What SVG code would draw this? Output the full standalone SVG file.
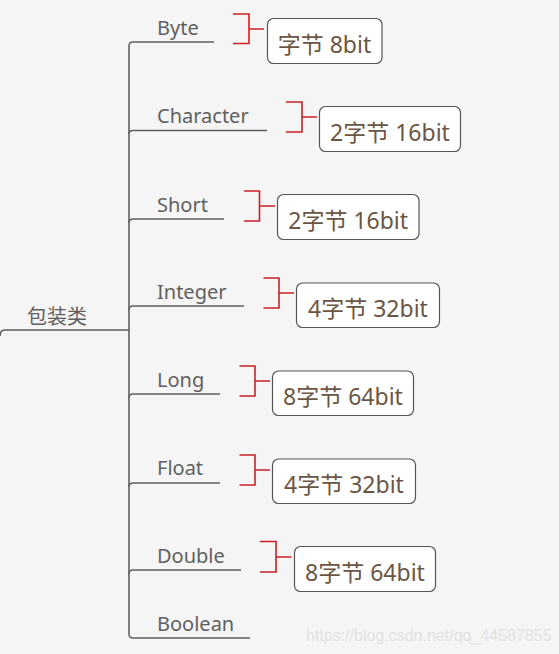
<svg xmlns="http://www.w3.org/2000/svg" width="559" height="654" viewBox="0 0 559 654">
<style>
.bg{fill:#f5f5f5}
.ln{fill:none;stroke:#606060;stroke-width:1.6}
.br{fill:none;stroke:#cc2026;stroke-width:1.6}
.lbl{font-family:"Noto Sans","Noto Sans CJK SC",sans-serif;font-size:20px;fill:#606060}
.box{fill:#ffffff;stroke:#555555;stroke-width:1.2}
.bt{font-family:"Noto Sans","Noto Sans CJK SC",sans-serif;font-size:23px;fill:#6b5643;text-anchor:middle}
.wm{font-family:"Liberation Sans",Arial,sans-serif;font-size:16px;fill:#e2e2e2}
</style>
<rect class="bg" x="0" y="0" width="559" height="654"/>
<g id="connectors">
<path class="ln" d="M0,336 Q0,330 5,330 H129"/>
<path class="ln" d="M129,46 V634"/>
<path class="ln" d="M129,46 Q129,42 133,42 H214"/>
<path class="ln" d="M129,134 Q129,130.5 133,130.5 H267"/>
<path class="ln" d="M129,223 Q129,219 133,219 H224"/>
<path class="ln" d="M129,310 Q129,306 133,306 H244"/>
<path class="ln" d="M129,398 Q129,394 133,394 H220"/>
<path class="ln" d="M129,487 Q129,483 133,483 H220"/>
<path class="ln" d="M129,574 Q129,570 133,570 H241"/>
<path class="ln" d="M129,634 Q129,638 133,638 H250"/>
<path class="br" d="M233,14 H249 V43.5 H233 M249,29 H264"/>
<path class="br" d="M286,102 H302 V132 H286 M302,117 H317"/>
<path class="br" d="M244,191 H259.5 V221 H244 M259.5,206 H275"/>
<path class="br" d="M263.5,278 H279 V308 H263.5 M279,293 H294"/>
<path class="br" d="M239.5,366 H255 V396 H239.5 M255,381 H270"/>
<path class="br" d="M239.5,455 H255 V485 H239.5 M255,470 H270"/>
<path class="br" d="M260,541.5 H276 V572 H260 M276,557 H291.5"/>
</g>
<g id="root"><text class="lbl" x="27" y="324">包装类</text></g>
<g id="byte"><text class="lbl" x="157" y="35">Byte</text></g>
<g id="character"><text class="lbl" x="157" y="123">Character</text></g>
<g id="short"><text class="lbl" x="157" y="212">Short</text></g>
<g id="integer"><text class="lbl" x="157" y="299">Integer</text></g>
<g id="long"><text class="lbl" x="157" y="387">Long</text></g>
<g id="float"><text class="lbl" x="157" y="475">Float</text></g>
<g id="double"><text class="lbl" x="157" y="563">Double</text></g>
<g id="boolean"><text class="lbl" x="157" y="631">Boolean</text></g>
<g id="byte-size"><rect class="box" x="267.5" y="18.5" width="114.5" height="45" rx="6"/><text class="bt" x="324.5" y="53">字节 8bit</text></g>
<g id="character-size"><rect class="box" x="319.5" y="106.5" width="141" height="45" rx="6"/><text class="bt" x="390" y="141">2字节 16bit</text></g>
<g id="short-size"><rect class="box" x="277.5" y="194.5" width="141.5" height="45" rx="6"/><text class="bt" x="348.2" y="229">2字节 16bit</text></g>
<g id="integer-size"><rect class="box" x="296.5" y="283" width="143" height="44.5" rx="6"/><text class="bt" x="368" y="317">4字节 32bit</text></g>
<g id="long-size"><rect class="box" x="272.5" y="371" width="141" height="44.5" rx="6"/><text class="bt" x="343" y="405">8字节 64bit</text></g>
<g id="float-size"><rect class="box" x="272.5" y="459" width="143" height="44.5" rx="6"/><text class="bt" x="344" y="493">4字节 32bit</text></g>
<g id="double-size"><rect class="box" x="294.5" y="546.5" width="141" height="45" rx="6"/><text class="bt" x="365" y="581">8字节 64bit</text></g>
<text class="wm" x="306" y="641">https://blog.csdn.net/qq_44587855</text>
</svg>
